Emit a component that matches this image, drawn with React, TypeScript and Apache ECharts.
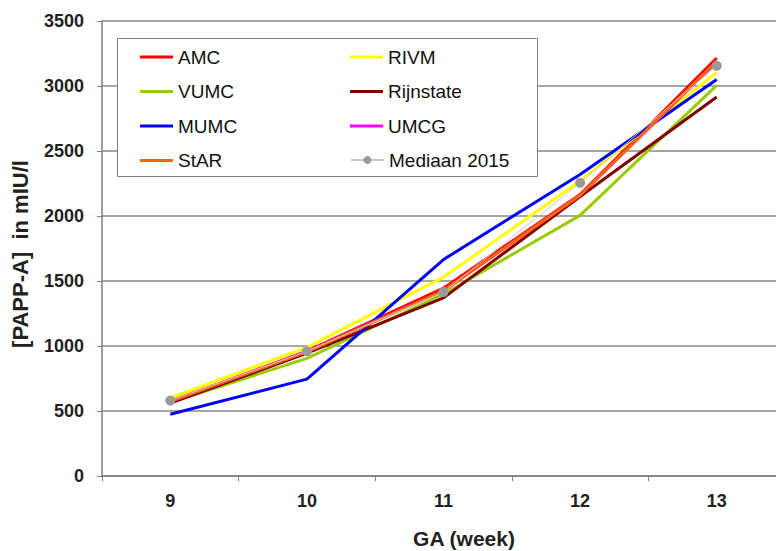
import React, { useEffect, useRef } from "react";
import * as echarts from "echarts";

const weeks = ["9", "10", "11", "12", "13"];
const yTicks = [0, 500, 1000, 1500, 2000, 2500, 3000, 3500];

const amc = [570, 960, 1445, 2165, 3215];
const rivm = [600, 990, 1530, 2270, 3105];
const vumc = [565, 905, 1400, 2005, 3005];
const rijnstate = [560, 945, 1370, 2150, 2915];
const mumc = [475, 745, 1665, 2320, 3050];
const umcg = [572, 958, 1425, 2160, 3185];
const star = [575, 955, 1425, 2160, 3190];
const mediaan2015 = [580, 960, 1415, 2255, 3155];

const seriesNames = ["AMC", "RIVM", "VUMC", "Rijnstate", "MUMC", "UMCG", "StAR", "Mediaan 2015"];
const seriesData = [amc, rivm, vumc, rijnstate, mumc, umcg, star, mediaan2015];
const seriesColors = ["#ff0000", "#ffff00", "#99cc00", "#800000", "#0000ff", "#ff00ff", "#ff6600", "#999999"];

export default function App() {
  const ref = useRef<HTMLDivElement>(null);
  useEffect(() => {
    if (!ref.current) return;
    const chart = echarts.init(ref.current, null, { renderer: "svg" });
    const font = "Liberation Sans, Arial, sans-serif";
    const series: any[] = seriesNames.map((name, i) => {
      const isMed = name === "Mediaan 2015";
      return {
        name,
        type: "line",
        data: seriesData[i],
        symbol: isMed ? "circle" : "none",
        symbolSize: 10,
        showSymbol: isMed,
        z: isMed ? 3 : 2,
        lineStyle: { color: isMed ? "#c8c8c8" : seriesColors[i], width: isMed ? 1 : 3 },
        itemStyle: { color: seriesColors[i] },
        emphasis: { disabled: true },
      };
    });
    const legendCommon = {
      orient: "vertical",
      padding: 0,
      itemWidth: 33,
      itemHeight: 3,
      itemGap: 14.5,
      z: 10,
      selectedMode: false,
      icon: "rect",
      textStyle: { fontFamily: font, fontSize: 19, color: "#111", lineHeight: 20 },
    };
    chart.setOption({
      animation: false,
      backgroundColor: "#ffffff",
      grid: { left: 102, top: 21, width: 683, height: 455 },
      legend: [
        { ...legendCommon, left: 140, top: 47, data: ["AMC", "VUMC", "MUMC", "StAR"] },
        { ...legendCommon, left: 350, top: 47, data: ["RIVM", "Rijnstate", "UMCG"] },
        {
          ...legendCommon,
          icon: undefined,
          itemHeight: 10,
          left: 350,
          top: 150,
          data: ["Mediaan 2015"],
        },
      ],
      graphic: [
        {
          type: "rect",
          left: 117,
          top: 38,
          z: 8,
          shape: { width: 420, height: 138 },
          style: { fill: "#ffffff", stroke: "#808080", lineWidth: 1 },
        },
        {
          type: "text",
          x: 464,
          y: 538,
          z: 10,
          style: {
            text: "GA (week)",
            fontFamily: font,
            fontSize: 21,
            fontWeight: "bold",
            fill: "#222",
            align: "center",
            verticalAlign: "middle",
          },
        },
        {
          type: "text",
          x: 20,
          y: 254,
          rotation: Math.PI / 2,
          z: 10,
          style: {
            text: "[PAPP-A]  in mIU/l",
            fontFamily: font,
            fontSize: 22,
            fontWeight: "bold",
            fill: "#222",
            align: "center",
            verticalAlign: "middle",
          },
        },
      ],
      xAxis: {
        type: "category",
        data: weeks,
        boundaryGap: true,
        axisLine: { lineStyle: { color: "#808080", width: 1.5 } },
        axisTick: { show: true, length: 5, lineStyle: { color: "#808080" } },
        axisLabel: { margin: 16, fontFamily: font, fontSize: 18, fontWeight: "bold", color: "#222" },
        splitLine: { show: false },
      },
      yAxis: {
        type: "value",
        min: yTicks[0],
        max: yTicks[yTicks.length - 1],
        interval: 500,
        axisLine: { show: true, lineStyle: { color: "#808080", width: 1.5 } },
        axisTick: { show: true, length: 5, lineStyle: { color: "#808080" } },
        axisLabel: {
          margin: 18,
          fontFamily: font,
          fontSize: 18,
          fontWeight: "bold",
          color: "#222",
          formatter: (v: number) => String(v),
        },
        splitLine: { show: true, lineStyle: { color: "#888888", width: 1.5 } },
      },
      series,
    });
    return () => chart.dispose();
  }, []);
  return (
    <div
      style={{ position: "fixed", left: 0, top: 0, width: 776, height: 551, overflow: "hidden", background: "#fff" }}
    >
      <div ref={ref} style={{ width: 800, height: 551 }} />
    </div>
  );
}
